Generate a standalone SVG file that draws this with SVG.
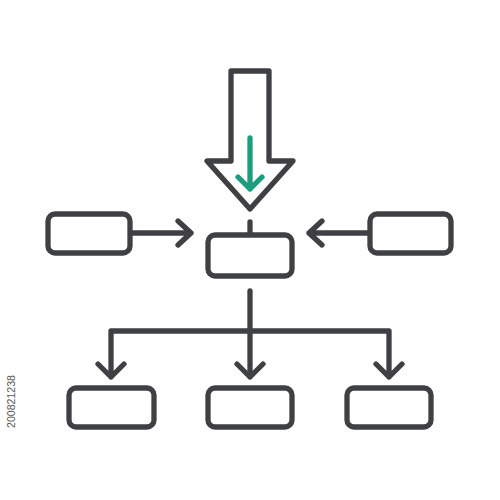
<svg xmlns="http://www.w3.org/2000/svg" width="500" height="500" viewBox="0 0 500 500">
<style>
.s{fill:none;stroke:#3e4044;stroke-width:5.3;stroke-linecap:round;stroke-linejoin:round}
.g{fill:none;stroke:#1c9e7e;stroke-width:5.3;stroke-linecap:round;stroke-linejoin:round}
.box{fill:#fff;stroke:#3e4044;stroke-width:5.3}
</style>
<rect width="500" height="500" fill="#fff"/>
<g id="big-arrow">
<path class="s" d="M231,71 H269 V161 H293 L250,209 L207,161 H231 Z"/>
<path class="g" d="M250,138 V189 M238,177 L250,189 L262,177"/>
</g>
<g id="connectors">
<path class="s" d="M250,222 V235"/>
<path class="s" d="M130,233 H191 M178,221 L191,233 L178,245"/>
<path class="s" d="M370,233 H309 M322,221 L309,233 L322,245"/>
<path class="s" d="M250,291 V377 M237,364 L250,377 L263,364"/>
<path class="s" d="M111,377 V331 H389 V377 M98,364 L111,377 L124,364 M376,364 L389,377 L402,364"/>
</g>
<g id="node-left"><rect class="box" x="48" y="214" width="82" height="39" rx="7"/></g>
<g id="node-center"><rect class="box" x="208" y="235" width="84" height="41" rx="7"/></g>
<g id="node-right"><rect class="box" x="370" y="214" width="81" height="39" rx="7"/></g>
<g id="node-bottom-left"><rect class="box" x="69" y="388" width="85" height="39" rx="7"/></g>
<g id="node-bottom-center"><rect class="box" x="208" y="388" width="84" height="39" rx="7"/></g>
<g id="node-bottom-right"><rect class="box" x="347" y="388" width="84" height="39" rx="7"/></g>
<text x="0" y="0" transform="translate(15,428) rotate(-90)" font-family="Liberation Sans, sans-serif" font-size="10" textLength="53" lengthAdjust="spacingAndGlyphs" fill="#555">200821238</text>
</svg>
